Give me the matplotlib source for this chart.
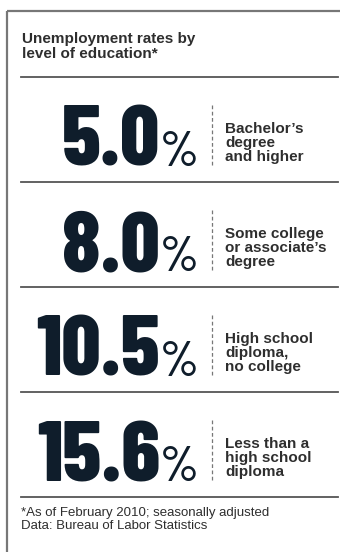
import matplotlib
matplotlib.use("Agg")
import matplotlib.pyplot as plt

# Taux de chômage par niveau d'éducation (février 2010)
rates = [5.0, 8.0, 10.5, 15.6]
levels = [
    "Bachelor\u2019s\ndegree\nand higher",
    "Some college\nor associate\u2019s\ndegree",
    "High school\ndiploma,\nno college",
    "Less than a\nhigh school\ndiploma",
]
title = "Unemployment rates by\nlevel of education*"
notes = "*As of February 2010; seasonally adjusted\nData: Bureau of Labor Statistics"

num_color = "#0f1d2b"
txt_color = "#2e2e2e"
line_color = "#555555"
narrow = ["Barlow Condensed", "Roboto Condensed", "DejaVu Sans"]
sans = ["Liberation Sans", "DejaVu Sans"]

fig = plt.figure(figsize=(3.4, 5.52), dpi=100)
ax = fig.add_axes([0, 0, 1, 1])
ax.set_xlim(0, 340)
ax.set_ylim(552, 0)
ax.axis("off")

# cadre (gauche + haut)
ax.plot([7, 7], [11, 552], color="#777777", lw=1.6, solid_capstyle="butt")
ax.plot([7, 340], [11, 11], color="#777777", lw=1.6, solid_capstyle="butt")

# titre
ax.text(22, 32, title, family=sans, fontsize=11, fontweight="bold",
        color=txt_color, va="top", ha="left", linespacing=1.1)
ax.plot([21, 338], [77, 77], color=line_color, lw=1.3)

row_h = 105
for i, (rate, lab) in enumerate(zip(rates, levels)):
    top = 77 + row_h * i
    base = top + 89
    ax.text(160, base, f"{rate:.1f}", family=narrow, fontsize=62,
            fontweight=800, color=num_color, ha="right", va="baseline")
    ax.text(160, base, "%", family=narrow, fontsize=36,
            fontweight="medium", color=num_color, ha="left", va="baseline")
    ax.plot([212, 212], [top + 28, top + 90], color="#777777", lw=0.9,
            linestyle=(0, (3, 2)))
    ax.text(225, top + 45, lab, family=sans, fontsize=11, fontweight="bold",
            color=txt_color, ha="left", va="top", linespacing=1.02)
    ax.plot([21, 338], [top + row_h, top + row_h], color=line_color, lw=1.3)

ax.text(21, 507, notes, family=sans, fontsize=9.5, color=txt_color,
        ha="left", va="top", linespacing=1.08)

fig.savefig("out.png", dpi=100, facecolor="white")
